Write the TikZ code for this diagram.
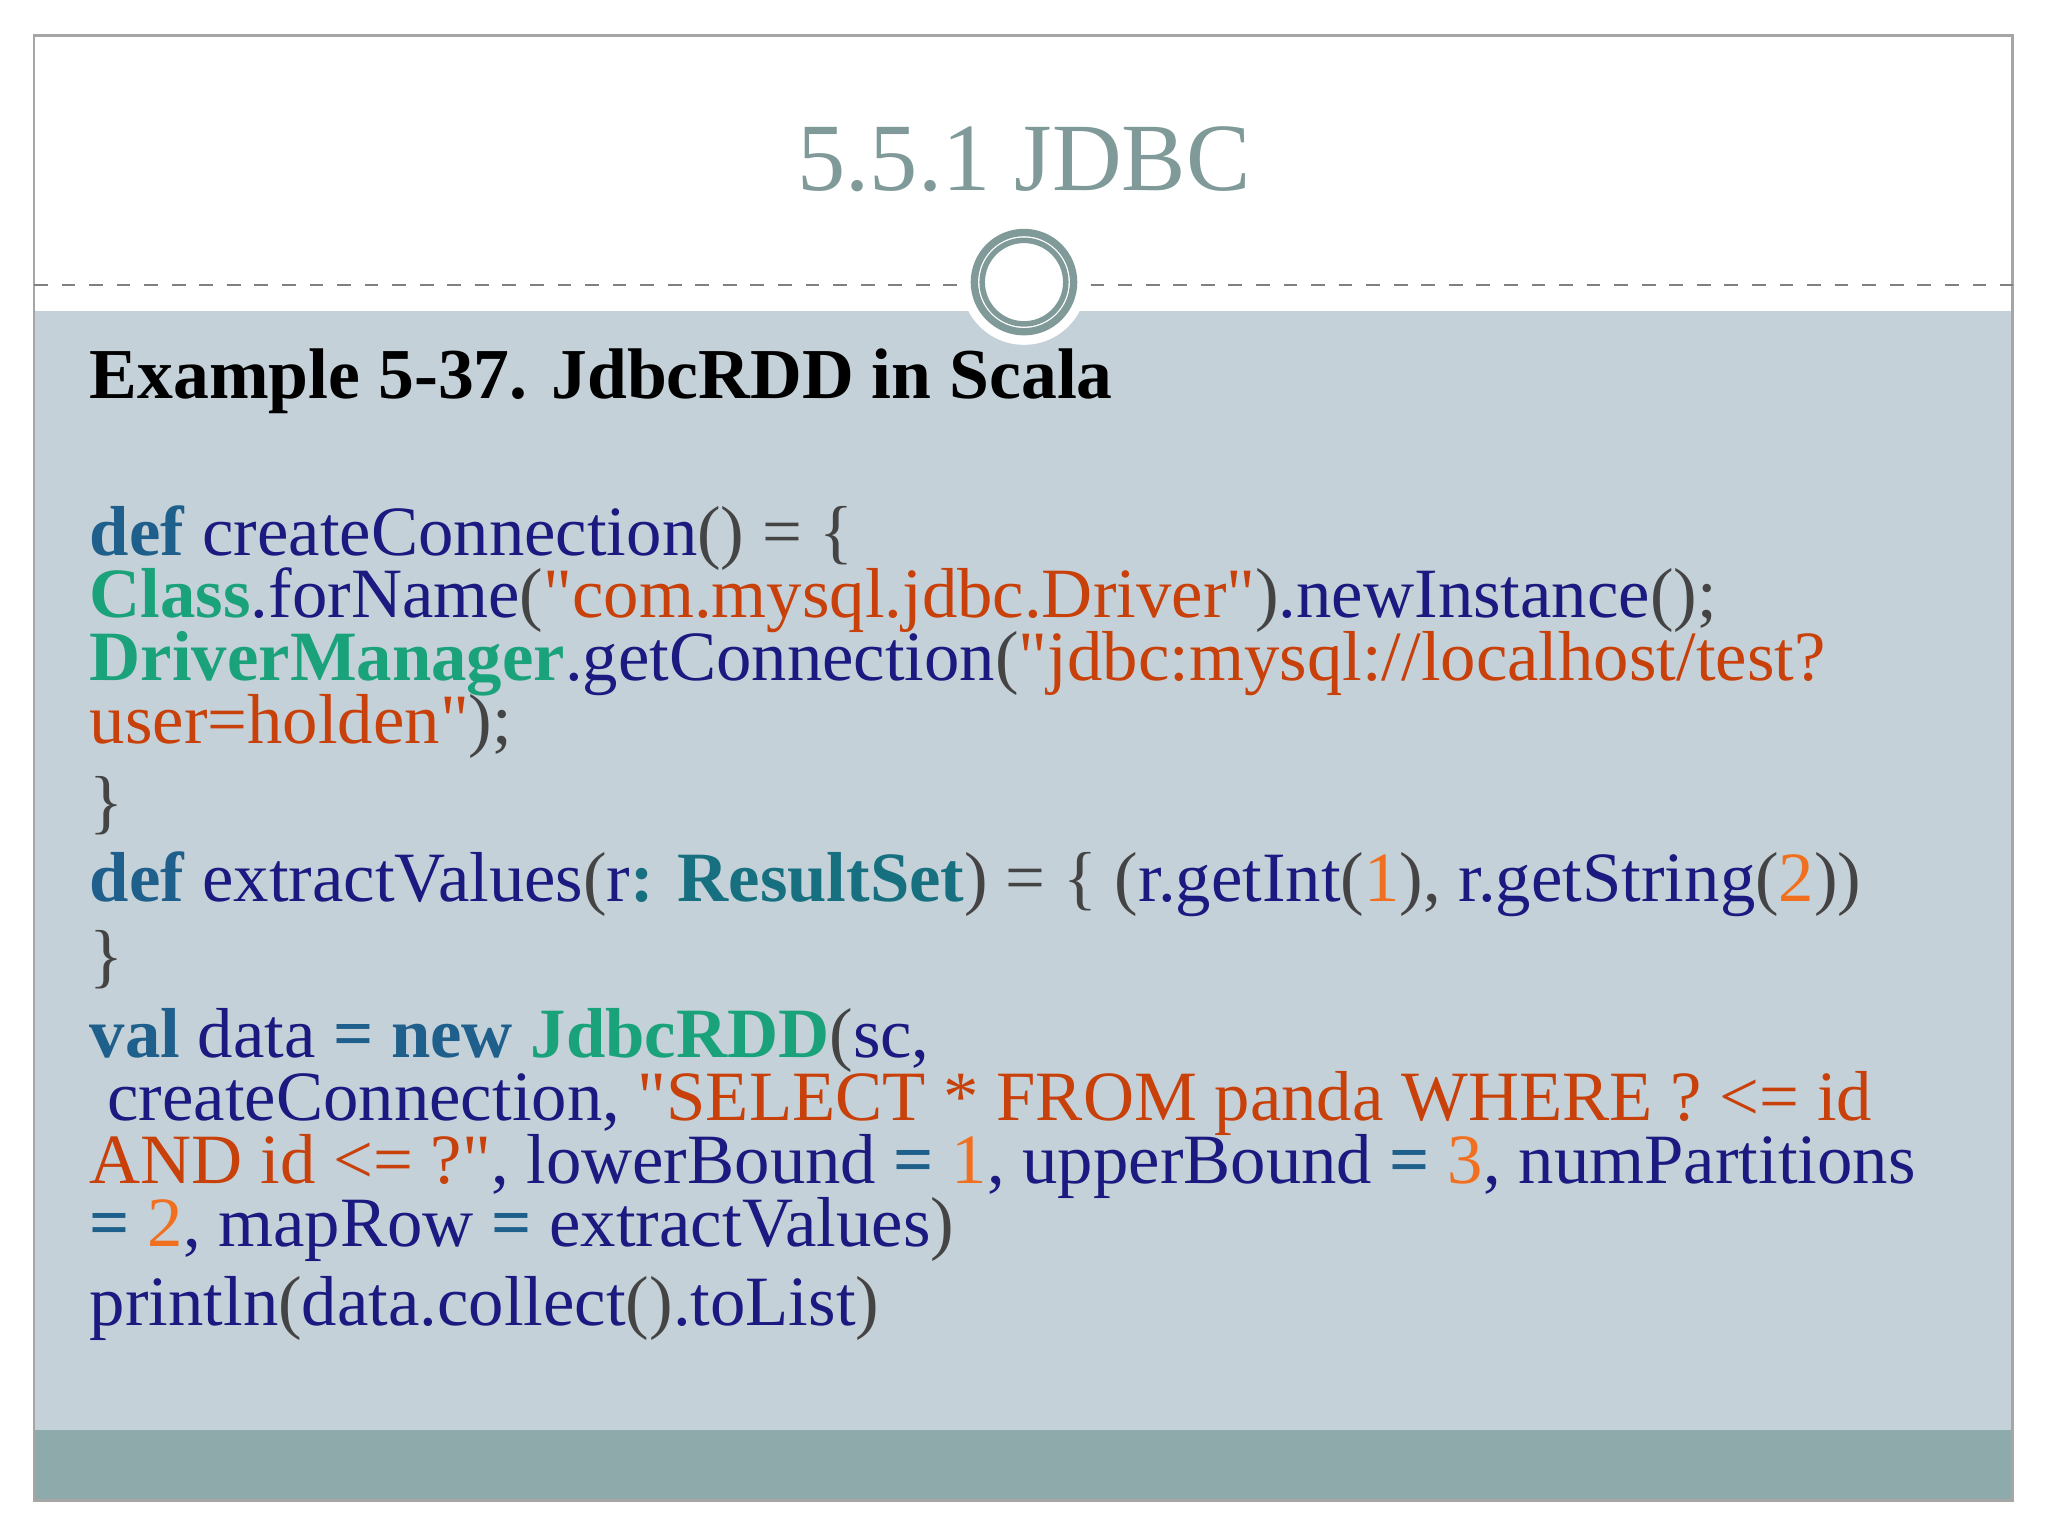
\documentclass[tikz,border=0pt]{standalone}
\usepackage{fontspec}
\setmainfont{Liberation Serif}[Ligatures=TeXOff]
\definecolor{kw}{HTML}{1F5F8B}
\definecolor{cls}{HTML}{1AA37A}
\definecolor{rs}{HTML}{17707F}
\definecolor{idn}{HTML}{1A1A80}
\definecolor{str}{HTML}{C8400A}
\definecolor{num}{HTML}{F07020}
\definecolor{pn}{HTML}{444444}
\definecolor{bodybg}{HTML}{C5D1D8}
\definecolor{barbg}{HTML}{8FAAAA}
\definecolor{ttl}{HTML}{7F9A98}
\newcommand{\K}[1]{\textcolor{kw}{\textbf{#1}}}
\newcommand{\C}[1]{\textcolor{cls}{\textbf{#1}}}
\newcommand{\R}[1]{\textcolor{rs}{\textbf{#1}}}
\newcommand{\I}[1]{\textcolor{idn}{#1}}
\newcommand{\St}[1]{\textcolor{str}{#1}}
\newcommand{\N}[1]{\textcolor{num}{#1}}
\newcommand{\Pn}[1]{\textcolor{pn}{#1}}
\newcommand{\qq}{\char34{}}
\tikzset{codeline/.style={anchor=base west,inner sep=0pt,font=\fontsize{15.4}{16}\selectfont}}
\begin{document}
\begin{tikzpicture}[x=0.01cm,y=-0.01cm]
\useasboundingbox (0,0) rectangle (1568,1176);
\fill[white] (0,0) rectangle (1568,1176);
\fill[bodybg] (26,238) rectangle (1541,1095);
\fill[barbg] (26,1095) rectangle (1541,1149);
\draw[gray!70,line width=0.6pt] (26,27) rectangle (1541,1149);
\draw[gray,dashed,line width=0.4pt] (26,218) -- (735,218);
\draw[gray,dashed,line width=0.4pt] (835,218) -- (1541,218);
\fill[white] (784,216) circle (48);
\draw[ttl,line width=1.6pt] (784,216) circle (38);
\draw[ttl,line width=1.2pt] (784,216) circle (32);
\node[font=\fontsize{21}{24}\selectfont,text=ttl] (title) at (784,122) {5.5.1 JDBC};
\node[codeline,font=\fontsize{15.6}{16}\selectfont\bfseries] (head) at (68,305) {Example 5-37. JdbcRDD in Scala};
\node[codeline] (l1) at (68,425) {\K{def} \I{createConnection}\Pn{() = \{}};
\node[codeline] (l2) at (68,473) {\C{Class}\I{.forName}\Pn{(}\St{\qq com.mysql.jdbc.Driver\qq}\Pn{)}\I{.newInstance}\Pn{();}};
\node[codeline] (l3) at (68,521) {\C{DriverManager}\I{.getConnection}\Pn{(}\St{\qq jdbc:mysql://localhost/test?}};
\node[codeline] (l4) at (68,569) {\St{user=holden\qq}\Pn{);}};
\node[codeline] (l5) at (68,632) {\Pn{\}}};
\node[codeline] (l6) at (68,690) {\K{def} \I{extractValues}\Pn{(}\I{r}\R{: ResultSet}\Pn{) = \{ (}\I{r.getInt}\Pn{(}\N{1}\Pn{),} \I{r.getString}\Pn{(}\N{2}\Pn{))}};
\node[codeline] (l7) at (68,750) {\Pn{\}}};
\node[codeline] (l8) at (68,810) {\K{val} \I{data} \K{= new} \C{JdbcRDD}\Pn{(}\I{sc,}};
\node[codeline] (l9) at (68,858) {\ \I{createConnection,} \St{\qq SELECT * FROM panda WHERE ? <= id}};
\node[codeline] (l10) at (68,906) {\St{AND id <= ?\qq}\I{, lowerBound} \K{=} \N{1}\I{, upperBound} \K{=} \N{3}\I{, numPartitions}};
\node[codeline] (l11) at (68,954) {\K{=} \N{2}\I{, mapRow} \K{=} \I{extractValues}\Pn{)}};
\node[codeline] (l12) at (68,1015) {\I{println}\Pn{(}\I{data.collect}\Pn{()}\I{.toList}\Pn{)}};
\end{tikzpicture}
\end{document}
